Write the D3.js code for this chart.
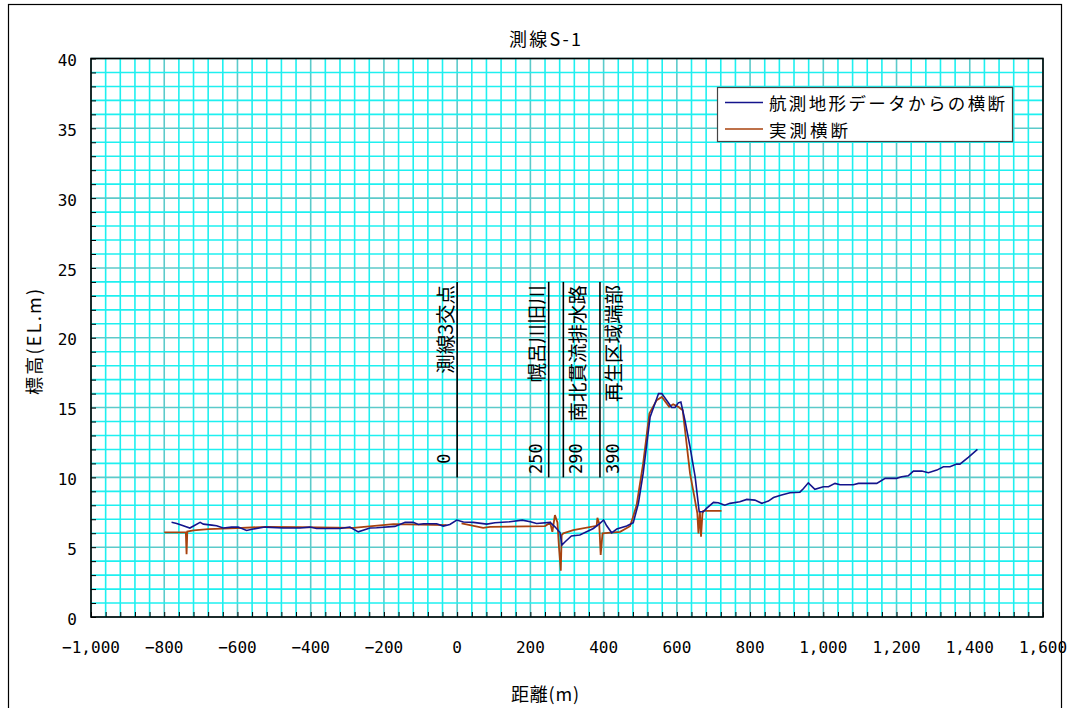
<!DOCTYPE html>
<html>
<head>
<meta charset="utf-8" />
<title>測線S-1</title>
<script src="https://cdn.jsdelivr.net/npm/d3@7"></script>
<style>
    body { margin: 0; background: #fff; }
    svg { display: block; }
    .jp { font-family: "Noto Sans CJK JP", sans-serif; fill: #000; }
    .num { font-family: "DejaVu Sans Mono", "Liberation Mono", monospace; fill: #000; }
</style>
</head>
<body>
<div id="holder"></div>
<script>
//Data
const title = "測線S-1";
const xTitle = "距離(m)";
const yTitle = "標高(EL.m)";
const seriesNames = ["航測地形データからの横断", "実測横断"];
const seriesWidths = [236, 79];

const xTicks = [-1000, -800, -600, -400, -200, 0, 200, 400, 600, 800, 1000, 1200, 1400, 1600];
const yTicks = [0, 5, 10, 15, 20, 25, 30, 35, 40];

// 航測地形データからの横断
const airX = [-780, -766, -748, -730, -702, -693, -670, -657, -639, -616, -598, -575, -557, -525, -475, -429,
    -402, -384, -320, -293, -270, -238, -220, -170, -142, -120, -106, -92, -56, -38, -20, -1,
    17, 44, 81, 103, 144, 178, 200, 217, 254, 267, 281, 286, 295, 312, 335, 372,
    390, 400, 408, 422, 436, 463, 481, 495, 508, 527, 550, 559, 572, 586, 595, 604,
    611, 622, 636, 650, 661, 672, 681, 700, 713, 731, 745, 772, 791, 813, 832, 850,
    864, 886, 909, 936, 946, 959, 977, 1000, 1014, 1032, 1046, 1082, 1096, 1146, 1169, 1200,
    1214, 1232, 1246, 1269, 1287, 1310, 1328, 1346, 1364, 1373, 1396, 1421];
const airY = [6.78, 6.70, 6.53, 6.37, 6.78, 6.65, 6.58, 6.53, 6.37, 6.44, 6.44, 6.20, 6.30, 6.44, 6.37, 6.37,
    6.44, 6.34, 6.34, 6.44, 6.10, 6.37, 6.39, 6.49, 6.78, 6.78, 6.63, 6.68, 6.68, 6.51, 6.63, 6.94,
    6.80, 6.78, 6.65, 6.75, 6.82, 6.94, 6.82, 6.70, 6.78, 6.46, 6.05, 5.15, 5.39, 5.80, 5.87, 6.34,
    6.70, 6.95, 6.55, 6.03, 6.30, 6.52, 6.75, 8.14, 10.28, 14.33, 16.0, 16.0, 15.53, 15.0, 15.0, 15.34,
    15.4, 14.1, 12.19, 10.04, 7.54, 7.54, 7.78, 8.21, 8.18, 8.01, 8.14, 8.25, 8.42, 8.37, 8.14, 8.30,
    8.56, 8.73, 8.90, 8.94, 9.20, 9.61, 9.14, 9.33, 9.33, 9.57, 9.47, 9.47, 9.57, 9.57, 9.93, 9.93,
    10.04, 10.11, 10.45, 10.45, 10.33, 10.52, 10.76, 10.76, 10.95, 10.95, 11.43, 12.0];

// 実測横断 (null = gap)
const surveyX = [-800, -741, -739, -737, -720, -680, -602, -520, -429, -284, -174, -29, -10,
    12, 71, 90, 240, 254, 260, 267, 274, 278, 283, 285.5, 290, 317, 381, 383, 388, 392, 397,
    445, 472, 479, 490, 508, 525, 545, 559, 579, 590, 604, 616, 636, 647, 656, 659, 663, 666, 670, 672, 722];
const surveyY = [6.06, 6.06, 4.5, 6.12, 6.2, 6.3, 6.37, 6.46, 6.44, 6.39, 6.65, 6.58, null,
    6.7, 6.39, 6.46, 6.51, 6.75, 6.1, 7.3, 6.75, 5.03, 3.31, 5.87, 5.99, 6.22, 6.53, 7.1, 6.7, 4.44, 5.99,
    6.1, 6.5, 7.06, 8.0, 11.0, 14.58, 15.53, 15.76, 15.05, 15.24, 15.05, 14.81, 10.28, 8.73, 7.42, 5.99, 7.54, 5.75, 7.42, 7.6, 7.6];

// 注記 (side: -1 = left of the line, 1 = right)
const noteX = [0, 250, 290, 390];
const noteName = ["測線3交点", "幌呂川旧川", "南北貫流排水路", "再生区域端部"];
const noteValue = ["0", "250", "290", "390"];
const noteSide = [-1, -1, 1, 1];
const noteFrom = 10;
const noteTo = 24;

//Layout
const w = 1071;
const h = 708;
const pLeft = 91, pRight = 1043, pTop = 58.5, pBottom = 617;

const xScale = d3.scaleLinear().domain([-1000, 1600]).range([pLeft, pRight]);
const yScale = d3.scaleLinear().domain([0, 40]).range([pBottom, pTop]);

const svg = d3.select("#holder")
    .append("svg")
    .attr("width", w)
    .attr("height", h);

//Outer frame
svg.append("rect")
    .attr("x", 8.5).attr("y", 4.5)
    .attr("width", 1053).attr("height", 720)
    .attr("fill", "#fff")
    .attr("stroke", "#000")
    .attr("stroke-width", 1.2);

//Grid
const grid = svg.append("g");
const xMinor = d3.range(-1000, 1601, 40);
const yMinor = d3.range(0, 41, 1);
grid.selectAll(".gx")
    .data(xMinor)
    .enter()
    .append("line")
    .attr("x1", d => xScale(d)).attr("x2", d => xScale(d))
    .attr("y1", pTop).attr("y2", pBottom)
    .attr("stroke", d => d % 200 === 0 ? "#5ccaca" : "#1ef0f0")
    .attr("stroke-width", 1.6);
grid.selectAll(".gy")
    .data(yMinor)
    .enter()
    .append("line")
    .attr("x1", pLeft).attr("x2", pRight)
    .attr("y1", d => yScale(d)).attr("y2", d => yScale(d))
    .attr("stroke", d => d % 5 === 0 ? "#5ccaca" : "#1ef0f0")
    .attr("stroke-width", 1.6);

//Axes (inward ticks)
const xAxis = d3.axisTop(xScale).tickValues(xMinor).tickSize(5).tickFormat("");
svg.append("g")
    .attr("transform", "translate(0," + pBottom + ")")
    .call(xAxis)
    .call(g => g.select(".domain").remove())
    .selectAll("line").attr("stroke", "#000");

const yAxis = d3.axisRight(yScale).tickValues(yMinor).tickSize(5).tickFormat("");
svg.append("g")
    .attr("transform", "translate(" + pLeft + ",0)")
    .call(yAxis)
    .call(g => g.select(".domain").remove())
    .selectAll("line").attr("stroke", "#000");

svg.append("rect")
    .attr("x", pLeft).attr("y", pTop)
    .attr("width", pRight - pLeft).attr("height", pBottom - pTop)
    .attr("fill", "none")
    .attr("stroke", "#000")
    .attr("stroke-width", 1.6);

//Tick labels
const fmt = d3.format(",");
svg.append("g").selectAll("text")
    .data(xTicks)
    .enter()
    .append("text")
    .attr("class", "num")
    .attr("x", d => xScale(d))
    .attr("y", 647)
    .attr("dy", "0.35em")
    .attr("text-anchor", "middle")
    .style("font-size", "16px")
    .text(d => fmt(d));

svg.append("g").selectAll("text")
    .data(yTicks)
    .enter()
    .append("text")
    .attr("class", "num")
    .attr("x", pLeft - 14)
    .attr("y", d => yScale(d) + 2)
    .attr("dy", "0.35em")
    .attr("text-anchor", "end")
    .style("font-size", "16px")
    .text(d => d);

//Notes
const notes = svg.append("g");
noteX.forEach((v, i) => {
    const px = xScale(v);
    const tx = px + noteSide[i] * 13;
    notes.append("line")
        .attr("x1", px).attr("x2", px)
        .attr("y1", yScale(noteFrom)).attr("y2", yScale(noteTo))
        .attr("stroke", "#000")
        .attr("stroke-width", 1.6);
    notes.append("text")
        .attr("class", "jp")
        .attr("transform", "translate(" + tx + "," + (yScale(noteTo) + 3) + ") rotate(-90)")
        .attr("text-anchor", "end")
        .attr("dominant-baseline", "central")
        .style("font-size", "19.5px")
        .text(noteName[i]);
    notes.append("text")
        .attr("class", "num")
        .attr("transform", "translate(" + tx + "," + yScale(11.35) + ") rotate(-90)")
        .attr("text-anchor", "middle")
        .attr("dominant-baseline", "central")
        .style("font-size", "17px")
        .text(noteValue[i]);
});

//Lines
const line = d3.line()
    .defined(d => d[1] !== null)
    .x(d => xScale(d[0]))
    .y(d => yScale(d[1]));

const survey = surveyX.map((x, i) => [x, surveyY[i]]);
const air = airX.map((x, i) => [x, airY[i]]);

svg.append("path")
    .datum(survey)
    .attr("d", line)
    .attr("fill", "none")
    .attr("stroke", "#a8420e")
    .attr("stroke-width", 1.8);

svg.append("path")
    .datum(air)
    .attr("d", line)
    .attr("fill", "none")
    .attr("stroke", "#14148c")
    .attr("stroke-width", 1.6);

//Legend
const legend = svg.append("g").attr("transform", "translate(717,87)");
legend.append("rect")
    .attr("x", 0.5).attr("y", 0.5)
    .attr("width", 295).attr("height", 54)
    .attr("fill", "#fff")
    .attr("stroke", "#444")
    .attr("stroke-width", 1.2);
const legColors = ["#14148c", "#a8420e"];
seriesNames.forEach((name, i) => {
    const ly = 15.5 + i * 26.5;
    legend.append("line")
        .attr("x1", 8).attr("x2", 46)
        .attr("y1", ly).attr("y2", ly)
        .attr("stroke", legColors[i])
        .attr("stroke-width", 1.6);
    legend.append("text")
        .attr("class", "jp")
        .attr("x", 52)
        .attr("y", ly)
        .attr("dominant-baseline", "central")
        .style("font-size", "17.5px")
        .attr("textLength", seriesWidths[i])
        .attr("lengthAdjust", "spacing")
        .text(name);
});

//Titles
svg.append("text")
    .attr("class", "jp")
    .attr("x", 545).attr("y", 38)
    .attr("text-anchor", "middle")
    .attr("dominant-baseline", "central")
    .style("font-size", "18px")
    .attr("textLength", 72)
    .attr("lengthAdjust", "spacing")
    .text(title);

svg.append("text")
    .attr("class", "jp")
    .attr("x", 545).attr("y", 693)
    .attr("text-anchor", "middle")
    .attr("dominant-baseline", "central")
    .style("font-size", "18px")
    .attr("textLength", 68)
    .attr("lengthAdjust", "spacing")
    .text(xTitle);

svg.append("text")
    .attr("class", "jp")
    .attr("transform", "translate(33,342) rotate(-90)")
    .attr("text-anchor", "middle")
    .attr("dominant-baseline", "central")
    .style("font-size", "18px")
    .attr("textLength", 106)
    .attr("lengthAdjust", "spacing")
    .text(yTitle);
</script>
</body>
</html>
